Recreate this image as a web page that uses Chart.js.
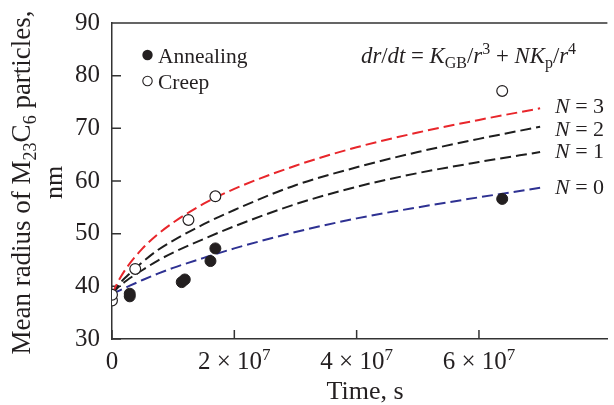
<!DOCTYPE html>
<html><head><meta charset="utf-8">
<script src="https://cdn.jsdelivr.net/npm/chart.js@4"></script>
<style>html,body{margin:0;padding:0;background:#fff}#wrap{width:614px;height:405px;position:relative}</style>
</head><body><div id="wrap"><canvas id="c" width="614" height="405"></canvas></div>
<script>
// ---- data ----
const timeTicks = [0, 2e7, 4e7, 6e7];
const timeTickMantissa = ['0', '2', '4', '6'];
const timeTickExponent = ['', '7', '7', '7'];
const radiusTicks = [30, 40, 50, 60, 70, 80, 90];

const annealingTime   = [2.9e6, 2.9e6, 1.14e7, 1.19e7, 1.61e7, 1.69e7, 6.38e7];
const annealingRadius = [38.1, 38.6, 40.8, 41.3, 44.8, 47.2, 56.6];

const creepTime   = [0, 0, 3.8e6, 1.25e7, 1.69e7, 6.38e7];
const creepRadius = [37.3, 38.4, 43.3, 52.6, 57.1, 77.1];

const curveTime = [0, 1e6, 2.5e6, 5e6, 7.5e6, 1e7, 1.5e7, 2e7, 3e7, 4e7, 5e7, 6e7, 7e7];
const curveN0 = [38.5, 39.1, 39.9, 41.2, 42.4, 43.5, 45.4, 47.2, 50.3, 52.9, 55.0, 56.9, 58.7];
const curveN1 = [38.5, 39.8, 41.2, 43.1, 44.9, 46.4, 49.0, 51.4, 55.6, 58.9, 61.5, 63.6, 65.5];
const curveN2 = [38.5, 40.2, 42.0, 44.6, 46.9, 48.7, 51.8, 54.5, 59.2, 62.6, 65.5, 68.0, 70.3];
const curveN3 = [38.5, 40.9, 43.7, 47.2, 49.9, 52.1, 55.7, 58.5, 62.9, 66.4, 69.2, 71.6, 73.8];
const curveLabels = ['N = 0', 'N = 1', 'N = 2', 'N = 3'];
const seriesLabels = ['Annealing', 'Creep'];

// ---- build ----
const pts = (xs, ys) => xs.map((x, i) => ({x, y: ys[i]}));
const FONT = '"Liberation Serif", "Times New Roman", serif';
const INK = '#231f20';

function drawRich(ctx, segs, x, y, size, align) {
  let total = 0;
  const items = segs.map(s => {
    const fs = (s.sub || s.sup) ? Math.round(size * 0.68) : size;
    const font = (s.i ? 'italic ' : '') + fs + 'px ' + FONT;
    ctx.font = font;
    const w = ctx.measureText(s.t).width;
    total += w;
    return {s, font, w, dy: s.sub ? size * 0.24 : (s.sup ? -size * 0.38 : 0)};
  });
  let cx = align === 'center' ? x - total / 2 : (align === 'right' ? x - total : x);
  ctx.textAlign = 'left';
  ctx.textBaseline = 'alphabetic';
  for (const it of items) {
    ctx.font = it.font;
    ctx.fillText(it.s.t, cx, y + it.dy);
    cx += it.w;
  }
}

const decor = {
  id: 'decor',
  beforeDatasetsDraw(chart) {
    const {ctx, chartArea: a, scales: {x, y}} = chart;
    ctx.save();
    ctx.strokeStyle = '#333';
    ctx.lineWidth = 1.5;
    ctx.beginPath();
    ctx.moveTo(a.left, a.top); ctx.lineTo(a.right, a.top);
    radiusTicks.forEach(v => { const py = y.getPixelForValue(v); ctx.moveTo(a.left, py); ctx.lineTo(a.left + 9, py); });
    timeTicks.forEach(v => { const px = x.getPixelForValue(v); ctx.moveTo(px, a.bottom); ctx.lineTo(px, a.bottom - 9); });
    ctx.stroke();
    ctx.restore();
  },
  afterDraw(chart) {
    const {ctx, chartArea: a, scales: {x, y}} = chart;
    ctx.save();
    ctx.fillStyle = INK;
    // x tick labels
    timeTicks.forEach((v, i) => {
      const px = x.getPixelForValue(v);
      const segs = timeTickExponent[i] ? [{t: timeTickMantissa[i] + ' × 10'}, {t: timeTickExponent[i], sup: true}] : [{t: timeTickMantissa[i]}];
      drawRich(ctx, segs, px, 369, 25, 'center');
    });
    // x title
    drawRich(ctx, [{t: 'Time, s'}], 365, 399, 26, 'center');
    // y title
    ctx.save();
    ctx.translate(0, 182.5);
    ctx.rotate(-Math.PI / 2);
    drawRich(ctx, [{t: 'Mean radius of M'}, {t: '23', sub: true}, {t: 'C'}, {t: '6', sub: true}, {t: ' particles,'}], 0, 30, 27, 'center');
    drawRich(ctx, [{t: 'nm'}], 0, 62, 26, 'center');
    ctx.restore();
    // legend
    ctx.fillStyle = INK;
    ctx.beginPath(); ctx.arc(147.5, 55, 5.2, 0, Math.PI * 2); ctx.fill();
    ctx.beginPath(); ctx.arc(147.5, 81, 4.7, 0, Math.PI * 2);
    ctx.strokeStyle = INK; ctx.lineWidth = 1.1; ctx.stroke();
    drawRich(ctx, [{t: seriesLabels[0]}], 158, 62.5, 21.5, 'left');
    drawRich(ctx, [{t: seriesLabels[1]}], 158, 88.5, 21.5, 'left');
    // equation
    drawRich(ctx, [
      {t: 'dr', i: true}, {t: '/'}, {t: 'dt', i: true}, {t: ' = '}, {t: 'K', i: true}, {t: 'GB', sub: true},
      {t: '/'}, {t: 'r', i: true}, {t: '3', sup: true}, {t: ' + '}, {t: 'NK', i: true}, {t: 'p', sub: true},
      {t: '/'}, {t: 'r', i: true}, {t: '4', sup: true}
    ], 361, 63, 22.8, 'left');
    // curve labels
    const labelBase = [194.3, 158.3, 135.7, 112.7];
    curveLabels.forEach((lab, k) => {
      const parts = lab.split(' = ');
      drawRich(ctx, [{t: parts[0], i: true}, {t: ' = ' + parts[1]}], 555, labelBase[k], 22, 'left');
    });
    ctx.restore();
  }
};

const lineDs = (label, data, color) => ({
  type: 'line', label, data: pts(curveTime, data), borderColor: color, borderWidth: 2,
  borderDash: [11, 5], pointRadius: 0, fill: false, cubicInterpolationMode: 'monotone'
});

new Chart(document.getElementById('c'), {
  type: 'scatter',
  data: {
    datasets: [
      {label: seriesLabels[0], data: pts(annealingTime, annealingRadius), pointRadius: 5.5, pointBackgroundColor: INK, pointBorderColor: INK, pointBorderWidth: 1, showLine: false},
      {label: seriesLabels[1], data: pts(creepTime, creepRadius), pointRadius: 5.4, pointBackgroundColor: '#fff', pointBorderColor: INK, pointBorderWidth: 1.2, showLine: false},
      lineDs(curveLabels[3], curveN3, '#e8262b'),
      lineDs(curveLabels[2], curveN2, '#1e1e1e'),
      lineDs(curveLabels[1], curveN1, '#1e1e1e'),
      lineDs(curveLabels[0], curveN0, '#2e3192')
    ]
  },
  options: {
    responsive: false, animation: false, devicePixelRatio: 1,
    layout: {padding: {top: 23, right: 0, left: 0, bottom: 0}},
    plugins: {legend: {display: false}, tooltip: {enabled: false}},
    scales: {
      x: {
        type: 'linear', min: 0, max: 8.1e7,
        afterBuildTicks: s => { s.ticks = timeTicks.map(v => ({value: v})); },
        afterFit: s => { s.height = 66; },
        grid: {display: false},
        border: {display: true, color: '#333', width: 1.5},
        ticks: {display: false}
      },
      y: {
        min: 30, max: 90,
        afterBuildTicks: s => { s.ticks = radiusTicks.map(v => ({value: v})); },
        afterFit: s => { s.width = 112; },
        grid: {display: false},
        border: {display: true, color: '#333', width: 1.5},
        ticks: {font: {family: FONT, size: 25}, color: INK, padding: 4}
      }
    }
  },
  plugins: [decor]
});
</script></body></html>
